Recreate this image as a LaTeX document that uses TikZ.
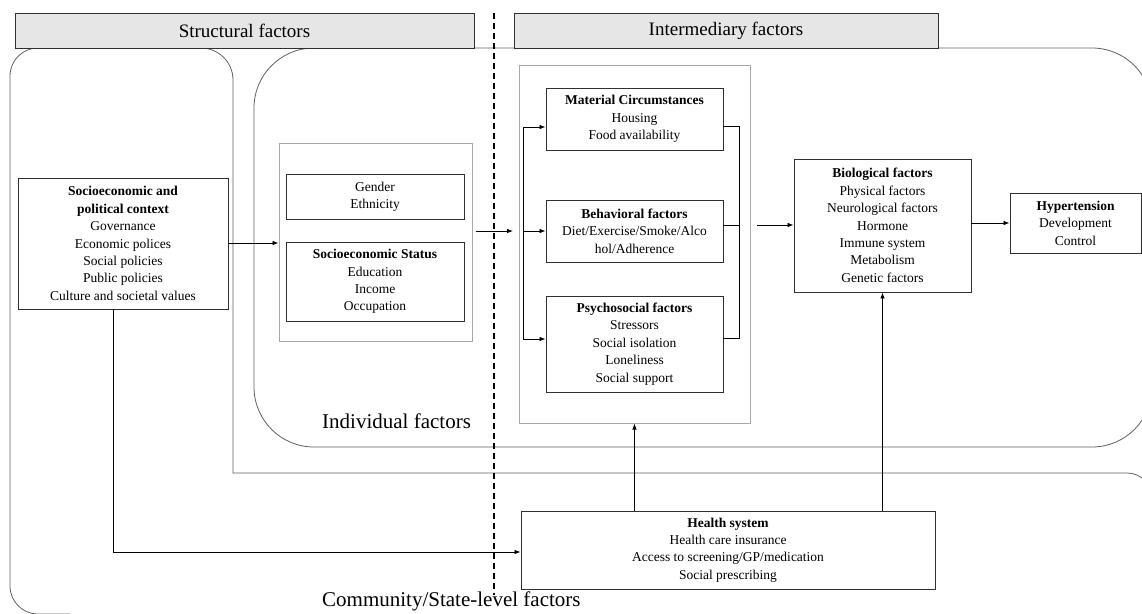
\documentclass[tikz,border=0pt]{standalone}
\usepackage{fontspec}
\setmainfont{Liberation Serif}
\usetikzlibrary{arrows.meta,calc}
\definecolor{boxline}{HTML}{303030}
\definecolor{regline}{HTML}{606060}
\definecolor{grayline}{HTML}{A8A8A8}
\definecolor{headfill}{HTML}{E6E6E6}
\begin{document}
\begin{tikzpicture}[x=1pt,y=-1pt,
  body/.style={font=\fontsize{13.5}{17.4}\selectfont, align=center},
  box/.style={draw=boxline, line width=0.9pt, inner sep=0pt, body},
  graybox/.style={draw=grayline, line width=1pt, inner sep=0pt},
  header/.style={draw=boxline, fill=headfill, line width=1pt, inner sep=0pt, font=\fontsize{19}{22}\selectfont},
  region/.style={draw=regline, line width=0.8pt},
  arr/.style={draw=black, line width=0.8pt, -{Latex[length=6pt,width=4.5pt]}},
  conn/.style={draw=black, line width=0.8pt},
  biglabel/.style={font=\fontsize{21}{24}\selectfont, anchor=west, inner sep=0pt}]
\useasboundingbox (0,0) rectangle (1142,613);
\clip (0,0) rectangle (1142,613);

% regions
\draw[region] (70,614) [rounded corners=28] -- (10,614) -- (10,48) [rounded corners=32] -- (233,48) [sharp corners] -- (233,473) [rounded corners=25] -- (1152,473) -- (1152,520);
\draw[region, rounded corners=60] (254,48) rectangle (1152,447);

% headers
\node[header, minimum width=459pt, minimum height=35pt] (h1) at (244.5,30.5) {Structural factors};
\node[header, minimum width=424pt, minimum height=35pt] (h2) at (726,30.5) {Intermediary factors};

% dashed divider
\coordinate (dtop) at (494,13);
\coordinate (dbot) at (494,595);
\draw[black, line width=1.3pt, dash pattern=on 6pt off 4pt] (dtop) -- (dbot);

% gray containers
\node[graybox, fill=white, minimum width=193pt, minimum height=198pt] (gray1) at (375.5,242) {};
\node[graybox, fill=white, minimum width=231pt, minimum height=358pt] (gray2) at (634.5,244) {};

% boxes
\node[box, minimum width=210pt, minimum height=131pt] (ctx) at (123,243.5)
  {\textbf{Socioeconomic and}\\\textbf{political context}\\Governance\\Economic polices\\Social policies\\Public policies\\Culture and societal values};
\node[box, minimum width=178pt, minimum height=45pt] (gen) at (375,196.5) {Gender\\Ethnicity};
\node[box, minimum width=178pt, minimum height=79pt] (ses) at (375,281.5)
  {\textbf{Socioeconomic Status}\\Education\\Income\\Occupation};
\node[box, minimum width=177pt, minimum height=62pt] (mat) at (634.5,119)
  {\textbf{Material Circumstances}\\Housing\\Food availability};
\node[box, minimum width=177pt, minimum height=62pt] (beh) at (634.5,231)
  {\textbf{Behavioral factors}\\Diet/Exercise/Smoke/Alco\\hol/Adherence};
\node[box, minimum width=177pt, minimum height=96pt] (psy) at (634.5,344)
  {\textbf{Psychosocial factors}\\Stressors\\Social isolation\\Loneliness\\Social support};
\node[box, minimum width=177pt, minimum height=133pt] (bio) at (882.5,225.5)
  {\textbf{Biological factors}\\Physical factors\\Neurological factors\\Hormone\\Immune system\\Metabolism\\Genetic factors};
\node[box, minimum width=131pt, minimum height=60pt] (hyp) at (1075.5,223)
  {\textbf{Hypertension}\\Development\\Control};
\node[box, fill=white, minimum width=414pt, minimum height=78pt] (hs) at (728,550)
  {\textbf{Health system}\\Health care insurance\\Access to screening/GP/medication\\Social prescribing};

% labels
\node[biglabel] (ind) at (322,421) {Individual factors};
\node[biglabel] (com) at (322,601) {Community/State-level factors};

% connectors
\draw[arr] (ctx.east |- 0,243) -- (gray1.west |- 0,243);
\coordinate (busL) at (523,231);
\coordinate (bm) at (523,127);
\coordinate (bp) at (523,339);
\draw[arr, shorten <=3pt, shorten >=10pt] (gray1.east |- busL) -- (busL);
\draw[conn] (bm) -- (bp);
\draw[arr] (bm) -- (bm -| mat.west);
\draw[arr] (busL) -- (busL -| beh.west);
\draw[arr] (bp) -- (bp -| psy.west);
\coordinate (rm) at (739,126);
\coordinate (rb) at (739,225);
\coordinate (rp) at (739,338);
\draw[conn] (rm -| mat.east) -- (rm) -- (rp) -- (rp -| psy.east);
\draw[conn] (rb -| beh.east) -- (rb);
\draw[arr, shorten <=18pt] (rb) -- (rb -| bio.west);
\draw[arr] (bio.east |- hyp.west) -- (hyp.west);
\draw[arr] (hs.north -| gray2.south) -- (gray2.south);
\draw[arr] (hs.north -| bio.south) -- (bio.south);
\coordinate (cd) at (113,552);
\draw[arr] (ctx.south -| cd) -- (cd) -- (cd -| hs.west);
\end{tikzpicture}
\end{document}
